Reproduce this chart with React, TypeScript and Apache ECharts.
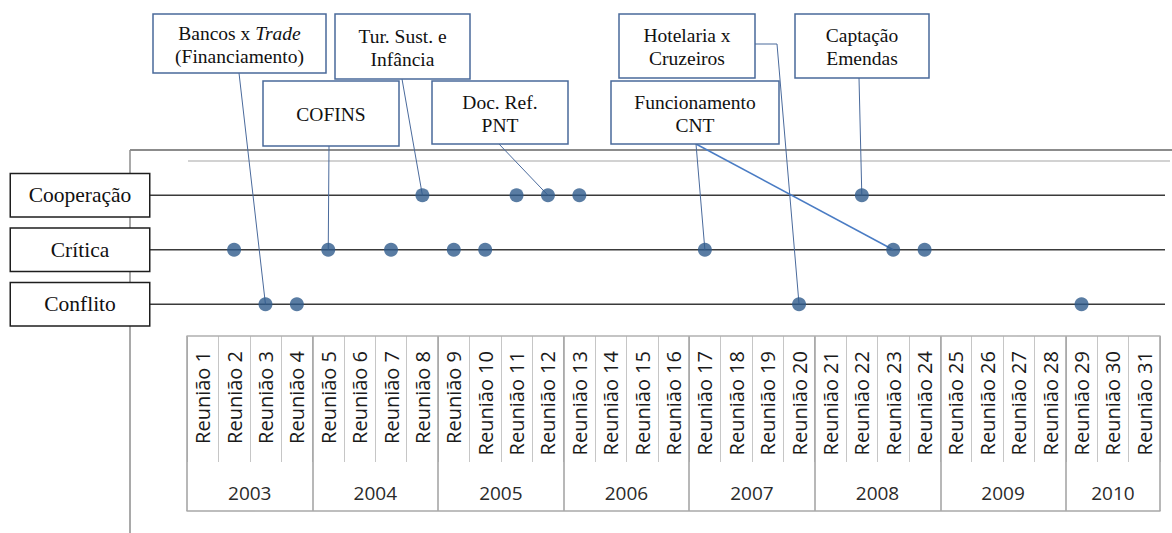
import React, { useEffect, useRef } from "react";
import * as echarts from "echarts";

const reunioes = [
  "Reunião 1", "Reunião 2", "Reunião 3", "Reunião 4", "Reunião 5", "Reunião 6", "Reunião 7", "Reunião 8",
  "Reunião 9", "Reunião 10", "Reunião 11", "Reunião 12", "Reunião 13", "Reunião 14", "Reunião 15", "Reunião 16",
  "Reunião 17", "Reunião 18", "Reunião 19", "Reunião 20", "Reunião 21", "Reunião 22", "Reunião 23", "Reunião 24",
  "Reunião 25", "Reunião 26", "Reunião 27", "Reunião 28", "Reunião 29", "Reunião 30", "Reunião 31",
];
const anos = ["2003", "2004", "2005", "2006", "2007", "2008", "2009", "2010"];
const reunioesPorAno = [4, 4, 4, 4, 4, 4, 4, 3];
const posturas = ["Cooperação", "Crítica", "Conflito"];
const cooperacao = [8, 11, 12, 13, 22];
const critica = [2, 5, 7, 9, 10, 17, 23, 24];
const conflito = [3, 4, 20, 29];

const temas = [
  { texto: "Bancos x {it|Trade}\n(Financiamento)", postura: "Conflito", reunioes: [3] },
  { texto: "Tur. Sust. e\nInfância", postura: "Cooperação", reunioes: [8] },
  { texto: "COFINS", postura: "Crítica", reunioes: [5] },
  { texto: "Doc. Ref.\nPNT", postura: "Cooperação", reunioes: [12] },
  { texto: "Hotelaria x\nCruzeiros", postura: "Conflito", reunioes: [20] },
  { texto: "Funcionamento\nCNT", postura: "Crítica", reunioes: [17, 23] },
  { texto: "Captação\nEmendas", postura: "Cooperação", reunioes: [22] },
];

// layout of the annotation boxes (pixels)
const caixas = [
  { x: 153, y: 14, w: 173, h: 59, ax: 239, ay: 73 },
  { x: 335, y: 14, w: 135, h: 65, ax: 402, ay: 79 },
  { x: 263, y: 81, w: 136, h: 65, ax: 329, ay: 146 },
  { x: 432, y: 81, w: 136, h: 63, ax: 499, ay: 144 },
  { x: 619, y: 14, w: 136, h: 64, ax: 755, ay: 44, elbow: 777 },
  { x: 611, y: 81, w: 168, h: 63, ax: 696, ay: 144, destaque: [false, true] },
  { x: 795, y: 14, w: 134, h: 64, ax: 859, ay: 78 },
];

export default function App() {
  const ref = useRef<HTMLDivElement>(null);
  useEffect(() => {
    const chart = echarts.init(ref.current!, null, { renderer: "svg" });
    const serif = "'Liberation Serif', 'Times New Roman', serif";
    const sans = "'Open Sans', 'Noto Sans', sans-serif";
    const inicio: number[] = [];
    let acc = 0;
    reunioesPorAno.forEach((c) => {
      inicio.push(acc);
      acc += c;
    });
    const dotStyle = { color: "#2F5B8C" };
    const mk = (arr: number[], p: string) => arr.map((n) => [reunioes[n - 1], p]);
    const option: any = {
      animation: false,
      backgroundColor: "#ffffff",
      grid: [
        { left: 187, right: 12, top: 168, height: 163.5 },
        { left: 187, right: 12, top: 336, height: 126 },
        { left: 187, right: 12, top: 336, height: 175 },
      ],
      xAxis: [
        { gridIndex: 0, type: "category", data: reunioes, show: false },
        {
          gridIndex: 1,
          type: "category",
          data: reunioes,
          position: "top",
          axisLine: { show: true, onZero: false, lineStyle: { color: "#b0b0b0", width: 1.5 } },
          axisTick: { show: false },
          splitLine: { show: true, lineStyle: { color: "#c6c6c6", width: 1 } },
          axisLabel: { inside: true, rotate: -90, margin: 15, interval: 0, fontFamily: sans, fontSize: 20, color: "#1a1a1a" },
        },
        {
          gridIndex: 2,
          type: "category",
          data: reunioes,
          position: "bottom",
          axisLine: { show: true, onZero: false, lineStyle: { color: "#a8a8a8", width: 1.5 } },
          axisTick: { show: false },
          axisLabel: { show: false },
          splitLine: { show: true, interval: (i: number) => inicio.includes(i), lineStyle: { color: "#a0a0a0", width: 1.5 } },
        },
      ],
      yAxis: [
        {
          gridIndex: 0,
          type: "category",
          data: posturas,
          inverse: true,
          axisLine: { show: false },
          axisTick: { show: false },
          splitLine: { show: false },
          axisLabel: {
            margin: 107,
            align: "center",
            verticalAlign: "middle",
            width: 138,
            height: 42,
            lineHeight: 42,
            borderColor: "#1e1e1e",
            borderWidth: 1.5,
            backgroundColor: "#ffffff",
            fontFamily: serif,
            fontSize: 21.5,
            color: "#111111",
          },
        },
        { gridIndex: 1, type: "value", show: false },
        { gridIndex: 2, type: "value", show: false },
      ],
      series: [
        { name: "Cooperação", type: "scatter", xAxisIndex: 0, yAxisIndex: 0, symbolSize: 14, itemStyle: dotStyle, data: mk(cooperacao, "Cooperação") },
        { name: "Crítica", type: "scatter", xAxisIndex: 0, yAxisIndex: 0, symbolSize: 14, itemStyle: dotStyle, data: mk(critica, "Crítica") },
        { name: "Conflito", type: "scatter", xAxisIndex: 0, yAxisIndex: 0, symbolSize: 14, itemStyle: dotStyle, data: mk(conflito, "Conflito") },
      ],
    };
    chart.setOption(option);

    const px = (cat: string, row: string) =>
      chart.convertToPixel({ xAxisIndex: 0, yAxisIndex: 0 }, [cat, row]) as number[];
    const band = px(reunioes[1], posturas[0])[0] - px(reunioes[0], posturas[0])[0];
    const elements: any[] = [];
    // frame
    elements.push({ type: "line", shape: { x1: 130, y1: 150, x2: 1172, y2: 150 }, style: { stroke: "#8c8c8c", lineWidth: 2 } });
    elements.push({ type: "line", shape: { x1: 130, y1: 150, x2: 130, y2: 533 }, style: { stroke: "#8c8c8c", lineWidth: 1.5 } });
    elements.push({ type: "line", shape: { x1: 188, y1: 161, x2: 1170, y2: 161 }, style: { stroke: "#a6a6a6", lineWidth: 1.2 } });
    // row lines
    posturas.forEach((p) => {
      const y = px(reunioes[0], p)[1];
      elements.push({ type: "line", shape: { x1: 150, y1: y, x2: 1165, y2: y }, style: { stroke: "#3a3a3a", lineWidth: 1.6 } });
    });
    // year labels
    anos.forEach((a, i) => {
      const x0 = px(reunioes[inicio[i]], posturas[0])[0] - band / 2;
      const x1 = px(reunioes[inicio[i] + reunioesPorAno[i] - 1], posturas[0])[0] + band / 2;
      elements.push({
        type: "text",
        style: { text: a, x: (x0 + x1) / 2, y: 493, textAlign: "center", textVerticalAlign: "middle", fontSize: 19, fontFamily: sans, fill: "#2a2a2a" },
      });
    });
    // annotations
    temas.forEach((t, i) => {
      const c: any = caixas[i];
      t.reunioes.forEach((n, k) => {
        const [tx, ty] = px(reunioes[n - 1], t.postura);
        const hi = c.destaque && c.destaque[k];
        const st = { stroke: hi ? "#4a7cc4" : "#4a6a9c", lineWidth: hi ? 1.5 : 1, fill: null };
        if (c.elbow) {
          elements.push({ type: "polyline", shape: { points: [[c.ax, c.ay], [c.elbow, c.ay], [tx, ty]] }, style: st });
        } else {
          elements.push({ type: "line", shape: { x1: c.ax, y1: c.ay, x2: tx, y2: ty }, style: st });
        }
      });
      elements.push({
        type: "rect",
        shape: { x: c.x, y: c.y, width: c.w, height: c.h },
        style: { fill: "#ffffff", stroke: "#4a6a9a", lineWidth: 1.5 },
        z: 5,
      });
      elements.push({
        type: "text",
        z: 6,
        style: {
          text: t.texto,
          x: c.x + c.w / 2,
          y: c.y + c.h / 2 + 1,
          textAlign: "center",
          textVerticalAlign: "middle",
          fontSize: 19.5,
          fontFamily: serif,
          lineHeight: 23,
          fill: "#111111",
          rich: { it: { fontStyle: "italic", fontSize: 19.5, fontFamily: serif, lineHeight: 23, fill: "#111111" } },
        },
      });
    });
    chart.setOption({ graphic: { elements } });
    return () => chart.dispose();
  }, []);
  return (
    <div
      ref={ref}
      style={{ position: "absolute", left: 0, top: 0, width: 1172, height: 533, background: "#ffffff" }}
    />
  );
}
